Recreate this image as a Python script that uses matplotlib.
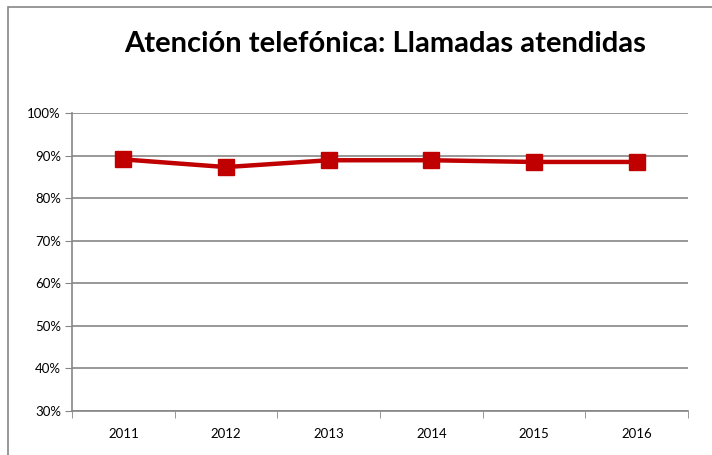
import matplotlib
matplotlib.use('Agg')
import matplotlib.pyplot as plt
from matplotlib.ticker import FuncFormatter, FixedLocator
from matplotlib.patches import Rectangle

plt.rcParams['font.family'] = ['Lato', 'DejaVu Sans']

years = ['2011', '2012', '2013', '2014', '2015', '2016']
atendidas = [0.891, 0.873, 0.889, 0.889, 0.885, 0.885]

fig = plt.figure(figsize=(7.12, 4.55), dpi=100)
ax = fig.add_axes([72 / 712, 1 - 411 / 455, 616 / 712, 298 / 455])

# marco del gráfico
fig.patches.append(Rectangle((8 / 712, -0.1), 1.2, 1 - 7 / 455 + 0.1,
                             transform=fig.transFigure, fill=False,
                             edgecolor='#868686', linewidth=1.2))

x = list(range(len(years)))
ax.plot(x, atendidas, color='#C00000', linewidth=3.2, marker='s',
        markersize=11, markerfacecolor='#C00000', markeredgecolor='#C00000')

ax.set_xlim(-0.5, len(years) - 0.5)
ax.set_ylim(0.3, 1.0)
ax.set_xticks(x)
ax.set_xticklabels(years)
ax.xaxis.set_minor_locator(FixedLocator([i - 0.5 for i in range(len(years) + 1)]))
ax.tick_params(axis='x', which='major', length=0, labelsize=9.5, pad=12)
ax.tick_params(axis='x', which='minor', length=5, color='#868686', direction='out')
ax.set_yticks([0.3 + 0.1 * i for i in range(8)])
ax.yaxis.set_major_formatter(FuncFormatter(lambda v, p: '{:.0f}%'.format(v * 100)))
ax.tick_params(axis='y', length=5, color='#868686', labelsize=9.5, pad=3)

ax.grid(axis='y', color='#868686', linewidth=1.2)
ax.set_axisbelow(True)
for s in ['top', 'right']:
    ax.spines[s].set_visible(False)
for s in ['left', 'bottom']:
    ax.spines[s].set_color('#868686')
    ax.spines[s].set_linewidth(1.2)

fig.text(385 / 712, 1 - 44 / 455, 'Atención telefónica: Llamadas atendidas',
         ha='center', va='center', fontsize=21, fontweight='bold')

fig.savefig('out.png', dpi=100)
